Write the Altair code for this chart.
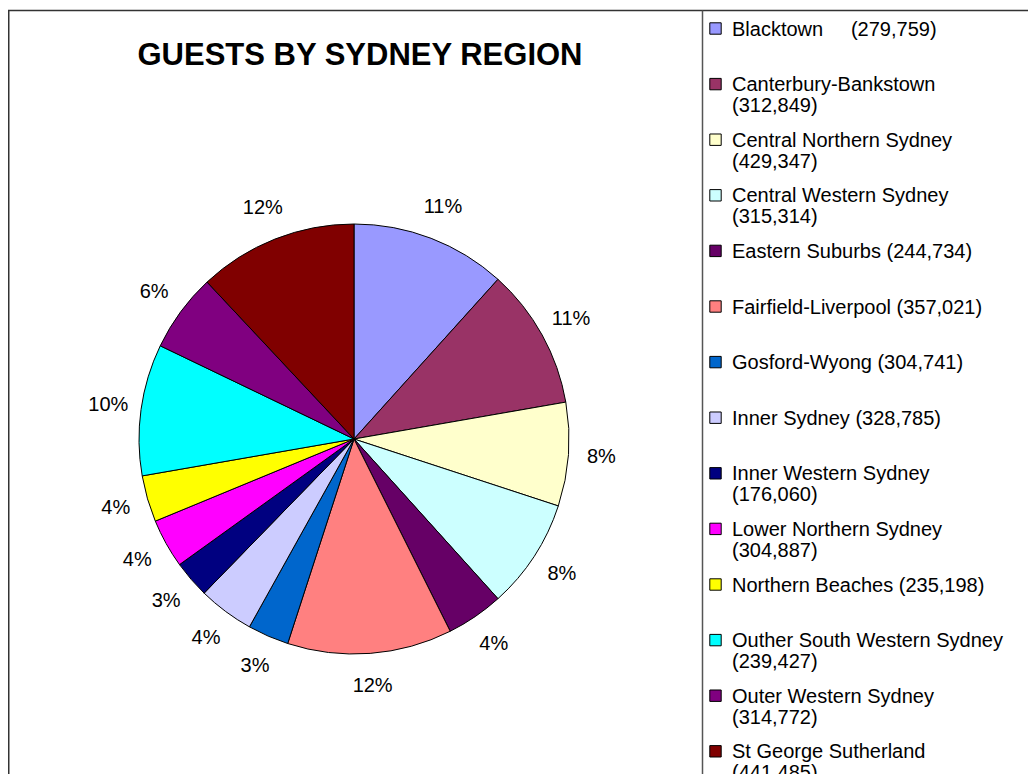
import altair as alt
import pandas as pd

FONT = "Liberation Sans"

regions = [
    "Blacktown", "Canterbury-Bankstown", "Central Northern Sydney",
    "Central Western Sydney", "Eastern Suburbs", "Fairfield-Liverpool",
    "Gosford-Wyong", "Inner Sydney", "Inner Western Sydney",
    "Lower Northern Sydney", "Northern Beaches", "Outher South Western Sydney",
    "Outer Western Sydney", "St George Sutherland",
]
guests = [
    "(279,759)", "(312,849)", "(429,347)", "(315,314)", "(244,734)",
    "(357,021)", "(304,741)", "(328,785)", "(176,060)", "(304,887)",
    "(235,198)", "(239,427)", "(314,772)", "(441,485)",
]
# slice shares (%)
shares = [11.7, 10.6, 7.8, 8.3, 4.3, 12.4, 3.1, 4.2, 2.8, 3.7, 3.5, 9.9, 5.9, 12.0]
pct_labels = ["11%", "11%", "8%", "8%", "4%", "12%", "3%", "4%", "3%",
              "4%", "4%", "10%", "6%", "12%"]
# separator between name and count in the legend ("\n" = wrapped onto 2nd line)
separators = ["\u00a0\u00a0\u00a0\u00a0 ", "\n", "\n", "\n", " ", " ", " ", " ",
              "\n", "\n", " ", "\n", "\n", "\n"]
colors = [
    "#9999FF", "#993366", "#FFFFCC", "#CCFFFF", "#660066", "#FF8080",
    "#0066CC", "#CCCCFF", "#000080", "#FF00FF", "#FFFF00", "#00FFFF",
    "#800080", "#800000",
]
title_text = "GUESTS BY SYDNEY REGION"

legend_labels = [r + s + g for r, s, g in zip(regions, separators, guests)]

df = pd.DataFrame({
    "idx": list(range(len(regions))),
    "region": regions,
    "share": shares,
    "pct": pct_labels,
    "legend": legend_labels,
})

W, H = 1020, 766
CX, CY = 346, 431

color = alt.Color("region:N", scale=alt.Scale(domain=regions, range=colors), legend=None)
theta = alt.Theta("share:Q", stack=True)
order = alt.Order("idx:Q", sort="ascending")

base = alt.Chart(df)

pie = base.mark_arc(outerRadius=215, stroke="black", strokeWidth=1).encode(
    theta=theta, color=color, order=order,
    x=alt.value(CX), y=alt.value(CY),
)

labels = base.mark_text(radius=248, fontSize=20, font=FONT, color="black").encode(
    theta=theta, order=order, text="pct:N",
    x=alt.value(CX), y=alt.value(CY),
)

leg_y = alt.Y("idx:Q", scale=alt.Scale(domain=[0, 13], range=[20.5, 743.3]), axis=None)

leg_box = base.mark_square(size=130, stroke="black", strokeWidth=1, opacity=1).encode(
    x=alt.value(707.5), y=leg_y, color=color,
)

leg_text = base.mark_text(
    align="left", baseline="alphabetic", dy=7, fontSize=20, lineHeight=21,
    lineBreak="\n", font=FONT, color="black",
).encode(x=alt.value(724), y=leg_y, text="legend:N")

one = pd.DataFrame({"t": [title_text]})
title = alt.Chart(one).mark_text(
    fontSize=31, fontWeight="bold", font=FONT, color="black", baseline="middle",
).encode(text="t:N", x=alt.value(352), y=alt.value(48))

border_top = alt.Chart(one).mark_rule(stroke="#333333", strokeWidth=1.5).encode(
    x=alt.value(0), x2=alt.value(W), y=alt.value(2.5))
border_left = alt.Chart(one).mark_rule(stroke="#333333", strokeWidth=1.5).encode(
    x=alt.value(0.75), y=alt.value(2.5), y2=alt.value(H))
border_leg = alt.Chart(one).mark_rule(stroke="#555555", strokeWidth=1.5).encode(
    x=alt.value(694.5), y=alt.value(2.5), y2=alt.value(H))

chart = alt.layer(
    border_top, border_left, border_leg, pie, labels, leg_box, leg_text, title
).properties(
    width=W, height=H, padding=0,
    autosize=alt.AutoSizeParams(type="none"),
    background="white",
).configure_view(stroke=None)

chart.save("out.html", embed_options={"renderer": "svg", "actions": False})
